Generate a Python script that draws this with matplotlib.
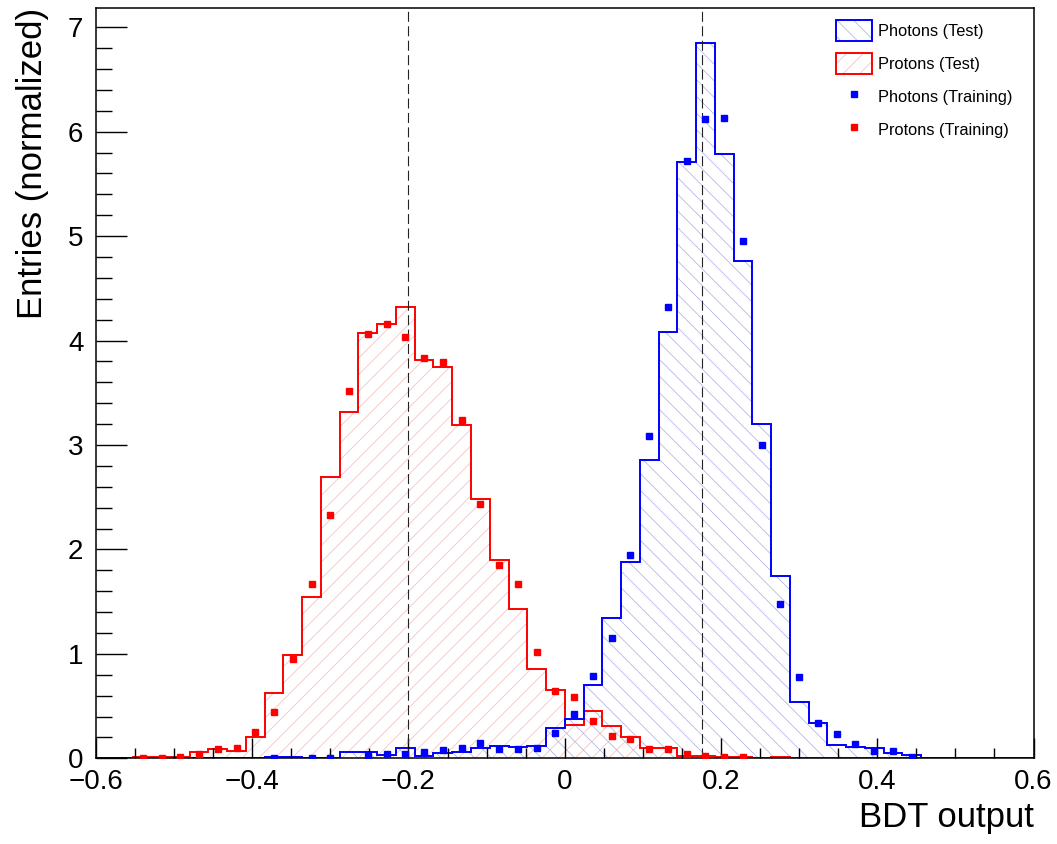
import matplotlib
matplotlib.use("Agg")
import matplotlib.pyplot as plt
import numpy as np
from matplotlib.patches import Patch
from matplotlib.lines import Line2D
from matplotlib.ticker import MultipleLocator

nan = np.nan

# 50 bins between -0.6 and 0.6
bin_edges = np.linspace(-0.6, 0.6, 51)

photons_test = [0, 0, 0, 0, 0, 0, 0, 0, 0, 0.01,
                0.01, 0, 0.005, 0.057, 0.063, 0.035, 0.1, 0.02, 0.048, 0.063,
                0.095, 0.117, 0.105, 0.12, 0.287, 0.375, 0.70, 1.34, 1.878, 2.855,
                4.08, 5.71, 6.845, 5.79, 4.76, 3.205, 1.75, 0.537, 0.342, 0.127,
                0.111, 0.095, 0.048, 0.032, 0, 0, 0, 0, 0, 0]

protons_test = [0, 0, 0.01, 0.01, 0.01, 0.063, 0.086, 0.07, 0.206, 0.625,
                0.987, 1.543, 2.69, 3.32, 4.07, 4.16, 4.32, 3.81, 3.75, 3.19,
                2.48, 1.90, 1.43, 0.86, 0.65, 0.318, 0.452, 0.308, 0.206, 0.10,
                0.10, 0.022, 0.022, 0.01, 0.01, 0, 0.01, 0, 0, 0,
                0, 0, 0, 0, 0, 0, 0, 0, 0, 0]

photons_train = [nan, nan, nan, nan, nan, nan, nan, nan, nan, 0.006,
                 nan, 0.006, 0.006, nan, 0.031, 0.041, 0.04, 0.06, 0.077, 0.097,
                 0.149, 0.086, 0.091, 0.095, 0.239, 0.425, 0.788, 1.152, 1.95, 3.085,
                 4.32, 5.72, 6.12, 6.13, 4.95, 3.0, 1.48, 0.78, 0.34, 0.232,
                 0.135, 0.07, 0.07, 0.008, nan, nan, nan, nan, nan, nan]

protons_train = [nan, nan, 0.006, 0.006, 0.01, 0.041, 0.086, 0.1, 0.248, 0.442,
                 0.955, 1.67, 2.33, 3.52, 4.065, 4.16, 4.03, 3.83, 3.79, 3.24,
                 2.435, 1.853, 1.67, 1.02, 0.643, 0.585, 0.353, 0.213, 0.182, 0.088,
                 0.094, 0.04, 0.024, 0.01, 0.01, nan, nan, nan, nan, nan,
                 nan, nan, nan, nan, nan, nan, nan, nan, nan, nan]

mean_lines = [-0.2, 0.176]

xtick_vals = [-0.6, -0.4, -0.2, 0, 0.2, 0.4, 0.6]
xtick_labels = ["\u22120.6", "\u22120.4", "\u22120.2", "0", "0.2", "0.4", "0.6"]
ytick_vals = [0, 1, 2, 3, 4, 5, 6, 7]

plt.rcParams['font.family'] = ['Liberation Sans', 'DejaVu Sans']
plt.rcParams['hatch.linewidth'] = 0.55

blue_hatch = '#b0b0ec'
red_hatch = '#f4c0c0'

fig = plt.figure(figsize=(10.57, 8.44), dpi=100)
ax = fig.add_axes([0.0908, 0.1015, 0.887, 0.8895])

centers = (bin_edges[:-1] + bin_edges[1:]) / 2

# hatched fills
ax.stairs(protons_test, bin_edges, fill=True, facecolor='none', edgecolor=red_hatch,
          hatch='//', linewidth=0)
ax.stairs(photons_test, bin_edges, fill=True, facecolor='none', edgecolor=blue_hatch,
          hatch='\\\\', linewidth=0)
# outlines
ax.stairs(protons_test, bin_edges, color='#ff0000', linewidth=1.4)
ax.stairs(photons_test, bin_edges, color='#0000ff', linewidth=1.4)

for m in mean_lines:
    ax.axvline(m, color='#222222', linewidth=0.8, dashes=(9, 4), zorder=3)

ax.plot(centers, photons_train, 's', color='#0000ff', ms=5, zorder=4)
ax.plot(centers, protons_train, 's', color='#ff0000', ms=5, zorder=4)

ax.set_xlim(-0.6, 0.6)
ax.set_ylim(0, 1.05 * max(photons_test))

ax.set_xticks(xtick_vals)
ax.set_xticklabels(xtick_labels)
ax.set_yticks(ytick_vals)
ax.xaxis.set_minor_locator(MultipleLocator(0.05))
ax.yaxis.set_minor_locator(MultipleLocator(0.2))
ax.tick_params(which='both', direction='in', width=1.0, labelsize=20)
ax.tick_params(axis='x', which='major', length=14.5, pad=8)
ax.tick_params(axis='x', which='minor', length=7.2)
ax.tick_params(axis='y', which='major', length=22, pad=9)
ax.tick_params(axis='y', which='minor', length=11.5)
for sp in ax.spines.values():
    sp.set_linewidth(1.1)

ax.set_xlabel('BDT output', fontsize=25, loc='right', labelpad=4)
ax.set_ylabel('Entries (normalized)', fontsize=25, loc='top')
ax.yaxis.set_label_coords(-0.05, 1.0)

handles = [
    (Patch(facecolor='white', edgecolor=blue_hatch, hatch='\\\\', linewidth=0),
     Patch(facecolor='none', edgecolor='#0000ff', linewidth=1.4)),
    (Patch(facecolor='white', edgecolor=red_hatch, hatch='//', linewidth=0),
     Patch(facecolor='none', edgecolor='#ff0000', linewidth=1.4)),
    Line2D([], [], ls='none', marker='s', ms=4.5, color='#0000ff'),
    Line2D([], [], ls='none', marker='s', ms=4.5, color='#ff0000'),
]
labels = ['Photons (Test)', 'Protons (Test)', 'Photons (Training)', 'Protons (Training)']
ax.legend(handles, labels, loc='upper left', bbox_to_anchor=(0.789, 0.984),
          frameon=False, fontsize=11.8, handlelength=2.2, handleheight=1.65,
          labelspacing=0.7, handletextpad=0.4, borderpad=0, borderaxespad=0)

fig.savefig('out.png', dpi=100)
